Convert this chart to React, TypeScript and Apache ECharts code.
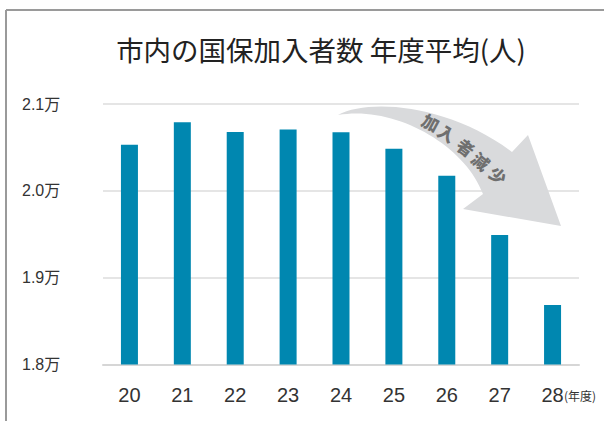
import React, { useEffect, useRef } from "react";
import * as echarts from "echarts";

const categories = ["20", "21", "22", "23", "24", "25", "26", "27", "28"];
const values = [20532, 20789, 20678, 20705, 20674, 20486, 20174, 19490, 18686];
const yTicks = [18000, 19000, 20000, 21000];
const arrowText = ["加", "入", "者", "減", "少"];

const ARROW_D =
  "M 338 115 C 370 98 450 105 512 152 L 528 135 L 561 226 L 463 209 L 483 194 C 465 145 395 105 338 115 Z";

let registered = false;
function ensureShape() {
  if (registered) return;
  echarts.graphic.registerShape("downArrow", echarts.graphic.extendPath(ARROW_D, {}) as any);
  registered = true;
}

const FONT = "'Liberation Sans', 'Noto Sans CJK JP', sans-serif";

export default function App() {
  const ref = useRef<HTMLDivElement>(null);
  useEffect(() => {
    if (!ref.current) return;
    ensureShape();
    const chart = echarts.init(ref.current, undefined, { renderer: "svg" });
    const charPos = [
      [431, 122, 28],
      [447, 133, 32],
      [466, 147, 37],
      [481, 161, 40],
      [498, 175, 43],
    ];
    chart.setOption({
      animation: false,
      title: {
        text: "市内の国保加入者数 年度平均(人)",
        left: 316,
        top: 30,
        textAlign: "center",
        textStyle: { fontSize: 27.5, fontWeight: "normal", color: "#222", fontFamily: "'Noto Sans CJK JP', sans-serif" },
      },
      grid: { left: 103, top: 104, width: 476, height: 260.5, containLabel: false },
      xAxis: {
        type: "category",
        data: categories,
        axisLine: { lineStyle: { color: "#d6d6d6", width: 2 } },
        axisTick: { show: false },
        axisLabel: { fontSize: 20, color: "#333", margin: 20, fontFamily: FONT },
      },
      yAxis: {
        type: "value",
        min: 18000,
        max: 21000,
        interval: 1000,
        axisLine: { show: false },
        axisTick: { show: false },
        splitLine: { lineStyle: { color: "#dcdcdc", width: 1.5 } },
        axisLabel: {
          align: "left",
          margin: 81,
          fontSize: 16,
          color: "#333",
          fontFamily: FONT,
          customValues: yTicks,
          formatter: (v: number) => (v / 10000).toFixed(1) + "万",
        },
      },
      series: [
        {
          type: "bar",
          data: values,
          barWidth: 17,
          itemStyle: { color: "#0087b0" },
        },
      ],
      graphic: [
        {
          type: "line",
          shape: { x1: 6, y1: 10, x2: 604, y2: 10 },
          style: { stroke: "#9a9a9a", lineWidth: 2 },
          z: 20,
        },
        {
          type: "line",
          shape: { x1: 6, y1: 10, x2: 6, y2: 421 },
          style: { stroke: "#9a9a9a", lineWidth: 2 },
          z: 20,
        },
        {
          type: "downArrow",
          x: 0,
          y: 0,
          style: { fill: "#d9dadc" },
          z: 10,
        },
        ...arrowText.map((c, i) => ({
          type: "text",
          x: charPos[i][0],
          y: charPos[i][1],
          rotation: (-charPos[i][2] * Math.PI) / 180,
          z: 11,
          style: {
            text: c,
            fontSize: 17,
            fontWeight: 900,
            fill: "#6f6f6f",
            align: "center",
            verticalAlign: "middle",
            fontFamily: "'Noto Sans CJK JP', sans-serif",
          },
        })),
        {
          type: "text",
          x: 564,
          y: 395,
          z: 11,
          style: {
            text: "(年度)",
            fontSize: 12,
            fill: "#333",
            align: "left",
            verticalAlign: "middle",
            fontFamily: "'Noto Sans CJK JP', sans-serif",
          },
        },
      ],
    });
    return () => chart.dispose();
  }, []);
  return (
    <div
      ref={ref}
      style={{ position: "absolute", left: 0, top: 0, width: 604, height: 421, background: "#fff" }}
    />
  );
}
